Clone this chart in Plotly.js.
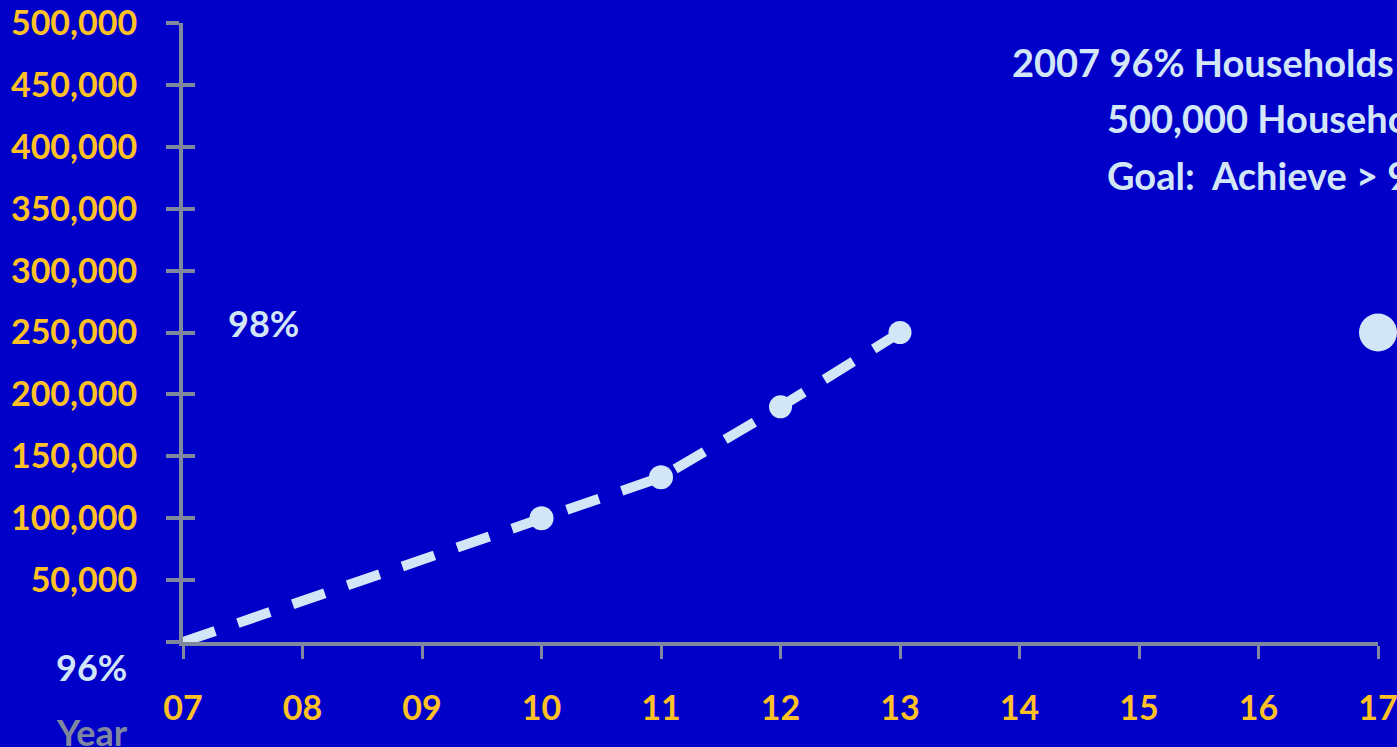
<!DOCTYPE html>
<html>
<head>
<meta charset="utf-8">
<script src="https://cdn.plot.ly/plotly-3.0.1.min.js"></script>
<style>html,body{margin:0;padding:0;background:#0000c8;overflow:hidden}#chart{width:1397px;height:747px}</style>
</head>
<body>
<div id="chart"></div>
<script>
// Data
const yearLabels = ["07","08","09","10","11","12","13","14","15","16","17"];
const yearValues = [7,8,9,10,11,12,13,14,15,16,17];
const trendYears = [7,10,11,12,13];
const trendHouseholds = [0,100000,133000,190000,250000];
const trendMarkerSizes = [0,24,24,23,23];
const goalYears = [17];
const goalHouseholds = [250000];
const yTickValues = [0,50000,100000,150000,200000,250000,300000,350000,400000,450000,500000];
const yTickLabels = ["","50,000","100,000","150,000","200,000","250,000","300,000","350,000","400,000","450,000","500,000"];

const light = "#d2e6f8";
const orange = "#ffc125";
const gray = "#8088a0";
const bg = "#0000c8";
const fontFam = "Lato, 'Open Sans', sans-serif";

const traces = [
  {x: trendYears, y: trendHouseholds, type: "scatter", mode: "lines",
   line: {color: light, width: 10, dash: "34px,24px"},
   cliponaxis: false, hoverinfo: "skip"},
  {x: trendYears, y: trendHouseholds, type: "scatter", mode: "markers",
   marker: {color: light, size: trendMarkerSizes, opacity: 1, line: {width: 0}},
   cliponaxis: false, hoverinfo: "skip"},
  {x: goalYears, y: goalHouseholds, type: "scatter", mode: "markers",
   marker: {color: light, size: 38, opacity: 1, line: {width: 0}},
   cliponaxis: false, hoverinfo: "skip"},
  {x: [7], y: [0], yaxis: "y2", type: "scatter", mode: "markers", marker: {size: 0, opacity: 0}, hoverinfo: "skip"}
];

const layout = {
  width: 1397, height: 747,
  paper_bgcolor: bg, plot_bgcolor: bg,
  margin: {l: 183, r: 19, t: 23, b: 105},
  showlegend: false,
  font: {family: fontFam, color: light},
  xaxis: {range: [7,17], tickvals: yearValues, ticktext: yearLabels,
    showgrid: false, zeroline: false, showline: true, linecolor: gray, linewidth: 4,
    ticks: "outside", ticklen: 13, tickwidth: 3, tickcolor: gray,
    ticklabelstandoff: 20, ticklabeloverflow: "allow",
    tickfont: {family: fontFam, size: 34, color: orange, weight: "bold"}},
  yaxis: {range: [0,500000], tickvals: yTickValues, ticktext: yTickLabels,
    showgrid: false, zeroline: false, showline: true, linecolor: gray, linewidth: 4,
    ticks: "outside", ticklen: 13, tickwidth: 4, tickcolor: gray,
    ticklabelstandoff: 22, ticklabeloverflow: "allow",
    tickfont: {family: fontFam, size: 34, color: orange, weight: "bold"}},
  yaxis2: {overlaying: "y", range: [0,500000], tickvals: yTickValues.slice(1), showticklabels: false,
    showgrid: false, zeroline: false, showline: false,
    ticks: "inside", ticklen: 12, tickwidth: 4, tickcolor: gray},
  annotations: [
    {text: "98%", xref: "paper", yref: "paper", x: 0.036, y: 0.515, xanchor: "left", yanchor: "middle", showarrow: false,
     font: {family: fontFam, size: 36, color: light, weight: "bold"}},
    {text: "96%", xref: "paper", yref: "paper", x: -0.0762, y: -0.0404, xanchor: "center", yanchor: "middle", showarrow: false,
     font: {family: fontFam, size: 36, color: light, weight: "bold"}},
    {text: "Year", xref: "paper", yref: "paper", x: -0.0762, y: -0.145, xanchor: "center", yanchor: "middle", showarrow: false,
     font: {family: fontFam, size: 36, color: gray, weight: "bold"}},
    {text: "2007 96% Households", xref: "paper", yref: "paper", x: 0.692, y: 0.937, xanchor: "left", yanchor: "middle", showarrow: false,
     font: {family: fontFam, size: 38, color: light, weight: "bold"}},
    {text: "500,000 Households", xref: "paper", yref: "paper", x: 0.7715, y: 0.8465, xanchor: "left", yanchor: "middle", showarrow: false,
     font: {family: fontFam, size: 38, color: light, weight: "bold"}},
    {text: "Goal:&nbsp; Achieve > 98%", xref: "paper", yref: "paper", x: 0.7715, y: 0.7545, xanchor: "left", yanchor: "middle", showarrow: false,
     font: {family: fontFam, size: 38, color: light, weight: "bold"}}
  ]
};

Plotly.newPlot("chart", traces, layout, {staticPlot: true, displayModeBar: false});
</script>
</body>
</html>
